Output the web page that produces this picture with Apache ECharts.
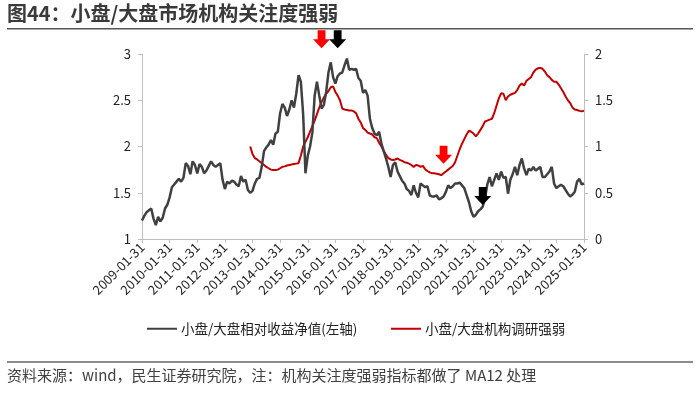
<!DOCTYPE html>
<html><head><meta charset="utf-8">
<script src="https://cdn.jsdelivr.net/npm/echarts@6/dist/echarts.min.js"></script>
<style>html,body{margin:0;padding:0;background:#fff}#c{width:700px;height:393px}</style>
</head><body><div id="c"></div>
<script>
// ---- data ----
const startYear = 2009, months = 193; // 2009-01 .. 2025-01, month-end
const titleText = '图44：小盘/大盘市场机构关注度强弱';
const sourceText = '资料来源：wind，民生证券研究院，注：机构关注度强弱指标都做了 MA12 处理';
const seriesNames = ['小盘/大盘相对收益净值(左轴)', '小盘/大盘机构调研强弱'];
const leftTicks = [1, 3, 0.5];
const rightTicks = [0, 2, 0.5];
const relNav = [
1.20,1.25,1.29,1.31,1.33,1.22,1.15,1.24,1.19,1.23,1.33,1.37,
1.45,1.56,1.59,1.62,1.65,1.62,1.66,1.82,1.79,1.70,1.84,1.80,
1.71,1.81,1.78,1.71,1.74,1.79,1.84,1.80,1.78,1.80,1.82,1.64,
1.54,1.62,1.60,1.63,1.62,1.59,1.57,1.68,1.62,1.64,1.53,1.50,
1.52,1.60,1.65,1.66,1.78,1.95,1.99,2.02,2.07,2.02,2.14,2.16,
2.36,2.46,2.42,2.33,2.40,2.50,2.42,2.57,2.77,2.70,2.35,1.71,
1.90,2.00,2.15,2.55,2.70,2.55,2.41,2.45,2.59,2.80,2.91,2.75,
2.68,2.76,2.79,2.80,2.88,2.95,2.83,2.84,2.83,2.84,2.74,2.71,
2.58,2.61,2.55,2.30,2.20,2.14,2.12,2.16,2.03,1.95,1.87,1.78,
1.67,1.80,1.83,1.73,1.68,1.63,1.60,1.54,1.52,1.475,1.58,1.50,
1.45,1.60,1.58,1.56,1.57,1.47,1.46,1.46,1.47,1.43,1.44,1.46,
1.51,1.58,1.55,1.57,1.60,1.60,1.61,1.58,1.55,1.475,1.40,1.30,
1.24,1.26,1.30,1.32,1.35,1.44,1.59,1.67,1.57,1.64,1.71,1.64,
1.73,1.66,1.67,1.49,1.64,1.70,1.78,1.69,1.80,1.87,1.76,1.69,
1.76,1.74,1.78,1.74,1.76,1.78,1.67,1.67,1.70,1.73,1.78,1.60,
1.55,1.57,1.585,1.57,1.53,1.49,1.46,1.48,1.51,1.62,1.65,1.59,
1.60
];
const redStart = 47; // first month with MA12 value
const instSurvey = [
1.00,0.92,0.875,0.86,0.84,0.82,0.80,0.78,0.765,0.75,0.745,0.745,0.75,
0.765,0.78,0.785,0.795,0.80,0.805,0.81,0.815,0.82,0.90,1.00,1.05,
1.10,1.16,1.22,1.28,1.35,1.42,1.48,1.53,1.57,1.60,1.64,1.65,
1.59,1.55,1.50,1.41,1.40,1.395,1.39,1.39,1.38,1.36,1.30,1.26,
1.20,1.18,1.15,1.14,1.13,1.10,1.09,1.04,1.00,0.95,0.91,0.875,
0.86,0.855,0.86,0.87,0.855,0.845,0.83,0.825,0.815,0.80,0.78,0.80,
0.795,0.78,0.79,0.755,0.735,0.72,0.71,0.71,0.705,0.70,0.69,0.71,
0.73,0.75,0.77,0.79,0.83,0.90,0.97,1.03,1.08,1.13,1.17,1.16,
1.14,1.11,1.14,1.18,1.22,1.27,1.28,1.29,1.30,1.36,1.44,1.52,
1.575,1.57,1.50,1.54,1.56,1.57,1.58,1.61,1.66,1.68,1.66,1.71,
1.73,1.75,1.80,1.83,1.845,1.85,1.84,1.81,1.77,1.75,1.72,1.70,
1.70,1.67,1.63,1.59,1.54,1.50,1.47,1.42,1.40,1.395,1.385,1.38,
1.385
];
// arrow annotations: [month index, value at arrow centre]
const blackArrows = [[85, 3.16], [148, 1.465]];   // left axis
const redArrows = [[78, 2.16], [131, 0.91]];      // right axis

// ---- build ----
const cats = [];
for (let k = 0; k < months; k++) {
  const y = startYear + Math.floor(k / 12), m = k % 12 + 1;
  const d = new Date(y, m, 0).getDate();
  cats.push(y + '-' + String(m).padStart(2, '0') + '-' + d);
}
const redData = cats.map((c, k) => k < redStart ? '-' : instSurvey[k - redStart]);
const FONT = '"Noto Sans CJK SC", "Microsoft YaHei", sans-serif';
const axisCol = '#bfbfbf';
const legendBase = {
  top: 317, itemGap: 0, itemWidth: 30, itemHeight: 2, icon: 'rect',
  textStyle: {fontSize: 13.5, color: '#222', fontFamily: FONT, padding: [0, 0, 0, -1]}
};
const chart = echarts.init(document.getElementById('c'));
chart.setOption({
  animation: false,
  textStyle: {fontFamily: FONT},
  grid: {left: 142, right: 116, top: 54, bottom: 154},
  legend: [
    Object.assign({}, legendBase, {left: 142, data: [seriesNames[0]]}),
    Object.assign({}, legendBase, {left: 386, data: [seriesNames[1]]})
  ],
  xAxis: {
    type: 'category', data: cats, boundaryGap: false,
    axisLine: {lineStyle: {color: axisCol, width: 1}},
    axisTick: {interval: 11, length: 4, lineStyle: {color: axisCol}},
    axisLabel: {interval: 11, rotate: 45, fontSize: 13, color: '#222', margin: 6, fontFamily: FONT},
    splitLine: {show: false}
  },
  yAxis: [
    {type: 'value', min: leftTicks[0], max: leftTicks[1], interval: leftTicks[2],
     axisLine: {show: true, lineStyle: {color: axisCol}},
     axisTick: {show: true, length: 4, lineStyle: {color: axisCol}},
     axisLabel: {fontSize: 13, color: '#222', margin: 11, fontFamily: FONT},
     splitLine: {show: false}},
    {type: 'value', min: rightTicks[0], max: rightTicks[1], interval: rightTicks[2],
     axisLine: {show: true, lineStyle: {color: axisCol}},
     axisTick: {show: true, length: 4, lineStyle: {color: axisCol}},
     axisLabel: {fontSize: 13, color: '#222', margin: 11, fontFamily: FONT},
     splitLine: {show: false}}
  ],
  series: [
    {name: seriesNames[0], type: 'line', yAxisIndex: 0, data: relNav,
     showSymbol: false, symbol: 'none', lineStyle: {color: '#404040', width: 2.5},
     itemStyle: {color: '#404040'}, z: 3},
    {name: seriesNames[1], type: 'line', yAxisIndex: 1, data: redData,
     showSymbol: false, symbol: 'none', lineStyle: {color: '#c00000', width: 2},
     itemStyle: {color: '#c00000'}, z: 2}
  ]
});
// arrows placed through the chart's own scales
function arrow(pt, color) {
  const w = 17, h = 18, cx = pt[0], top = pt[1] - h / 2;
  const sw = w * 0.46, sh = h * 0.5;
  return {type: 'polygon', z: 100, silent: true,
    shape: {points: [
      [cx - sw / 2, top], [cx + sw / 2, top], [cx + sw / 2, top + sh], [cx + w / 2, top + sh],
      [cx, top + h], [cx - w / 2, top + sh], [cx - sw / 2, top + sh]]},
    style: {fill: color}};
}
const g = [
  {type: 'text', left: 7, top: 3, style: {text: titleText, font: 'bold 20px ' + FONT, fill: '#3a3a3a'}},
  {type: 'rect', shape: {x: 7, y: 28, width: 686, height: 1.5}, style: {fill: '#555'}},
  {type: 'rect', shape: {x: 7, y: 361, width: 686, height: 2}, style: {fill: '#8c8c8c'}},
  {type: 'text', left: 7, top: 368, style: {text: sourceText, font: '15px ' + FONT, fill: '#404040'}}
];
blackArrows.forEach(a => g.push(arrow(chart.convertToPixel({xAxisIndex: 0, yAxisIndex: 0}, [a[0], a[1]]), '#000000')));
redArrows.forEach(a => g.push(arrow(chart.convertToPixel({xAxisIndex: 0, yAxisIndex: 1}, [a[0], a[1]]), '#ff0000')));
chart.setOption({graphic: g});
</script></body></html>
